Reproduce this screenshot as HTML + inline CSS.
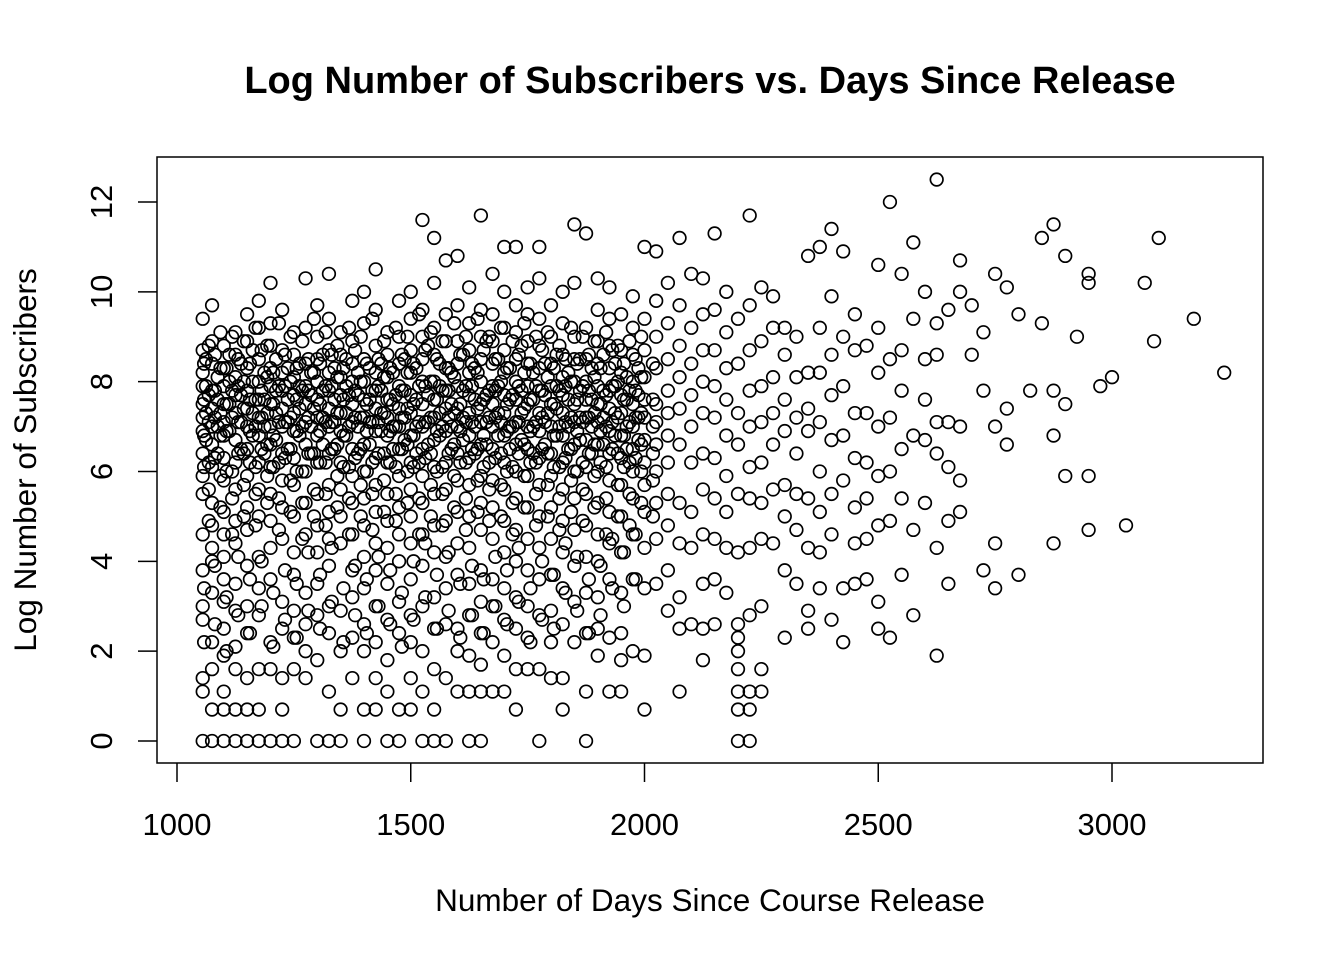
<!DOCTYPE html>
<html><head><meta charset="utf-8"><style>
html,body{margin:0;padding:0;background:#fff;}
svg{display:block;font-family:"Liberation Sans",Arial,sans-serif;}
</style></head><body>
<svg id="chart" width="1344" height="960" viewBox="0 0 1344 960" xmlns="http://www.w3.org/2000/svg">
<rect width="1344" height="960" fill="#fff"/>
<text x="710" y="93" text-anchor="middle" font-size="38" font-weight="bold">Log Number of Subscribers vs. Days Since Release</text>
<rect x="157" y="157" width="1106" height="606" fill="none" stroke="#000" stroke-width="1.5"/>
<g id="xaxis"></g>
<g id="yaxis"></g>
<g id="points"></g>
<text x="710" y="911" text-anchor="middle" font-size="31.5">Number of Days Since Course Release</text>
<text transform="translate(36,460) rotate(-90)" text-anchor="middle" font-size="31.5">Log Number of Subscribers</text>
</svg>
<script>
const xTicks=[1000,1500,2000,2500,3000];
const yTicks=[0,2,4,6,8,10,12];
const colX=[1055,1075,1100,1125,1150,1175,1200,1225,1250,1275,1300,1325,1350,1375,1400,1425,1450,1475,1500,1525,1550,1575,1600,1625,1650,1675,1700,1725,1750,1775,1800,1825,1850,1875,1900,1925,1950,1975,2000,2025,2050,2075,2100,2125,2150,2175,2200,2225,2250,2275,2300,2325,2350,2375,2400,2425,2450,2475,2500,2525,2550,2575,2600,2625,2650,2675,2700,2725,2750,2775,2800,2825,2850,2875,2900,2925,2950,2975,3000,3030,3070,3090,3100,3175,3240];
const colY=[
[0,1.1,1.4,2.7,3,3.8,4.6,5.5,5.9,6.4,6.9,7.2,7.5,7.9,8.2,8.7,9.4],
[0,0.7,1.6,2.2,3.3,4,4.3,4.8,5.3,6.1,6.6,7,7.4,7.8,8.4,8.9,9.7],
[0,0.7,1.1,1.9,2.5,3.1,3.6,4.1,4.6,5.1,5.8,6.3,6.8,7.1,7.5,7.9,8.3,8.8],
[0,0.7,1.6,2.1,2.9,3.5,4.4,4.9,5.6,6.2,6.7,7.3,7.7,8.1,8.6,9.1],
[0,0.7,1.4,2.4,3,3.9,4.7,5.2,5.9,6.5,7,7.4,7.8,8.3,8.9,9.5],
[0,0.7,1.6,2.8,3.4,4.1,5,5.6,6.2,6.8,7.2,7.6,8,8.5,9.2,9.8],
[0,1.6,2.2,3.6,4.3,4.9,5.5,6.1,6.6,7,7.5,7.9,8.3,8.8,9.3,10.2],
[0,0.7,1.4,2.5,3.1,4.5,5.2,5.8,6.4,7,7.4,7.8,8.2,8.7,9.6],
[0,1.6,2.3,2.9,3.7,4.2,5,5.7,6.3,6.9,7.3,7.7,8.1,8.6,9.1],
[1.4,2,2.6,3.3,4.6,5.3,6,6.6,7.1,7.5,7.9,8.4,9.2,10.3],
[0,1.8,2.8,3.5,4.2,4.8,5.5,6.2,6.8,7.2,7.6,8,8.5,9,9.7],
[0,1.1,2.4,3,3.9,4.5,5.1,5.7,6.4,7,7.4,7.8,8.2,8.7,9.4,10.4],
[0,0.7,2,2.9,4.4,5,5.6,6.2,6.9,7.3,7.7,8.1,8.6,9.1],
[1.4,2.3,3.2,3.8,4.6,5.3,5.9,6.5,7.1,7.5,8,8.4,8.9,9.8],
[0,0.7,2,2.6,3.4,4.1,4.8,5.4,6,6.6,7.2,7.6,8,8.5,9.3,10],
[0.7,1.4,2.2,3,3.8,4.4,5.1,5.7,6.3,6.9,7.4,7.8,8.2,8.8,9.6,10.5],
[0,1.1,1.8,2.7,3.5,4.3,4.9,5.5,6.2,6.8,7.2,7.6,8.1,8.6,9.1],
[0,0.7,2.4,3.1,4,4.6,5.2,5.9,6.5,7,7.4,7.9,8.4,9,9.8],
[0.7,1.4,2.2,2.8,3.6,4.4,5,5.6,6.2,6.8,7.3,7.7,8.2,8.7,9.4,10],
[0,1.1,2,3,3.9,4.6,5.3,5.9,6.5,7,7.5,8,8.5,9,9.6,11.6],
[0,0.7,1.6,2.5,3.2,4.2,4.8,5.5,6.1,6.7,7.2,7.6,8,8.6,9.2,10.2,11.2],
[0,1.4,2.6,3.4,4.1,4.9,5.6,6.2,6.9,7.4,7.8,8.3,8.9,9.5,10.7],
[1.1,2,2.5,3.7,4.4,5.1,5.8,6.4,7,7.4,7.9,8.4,8.9,9.7,10.8],
[0,1.1,1.9,2.8,3.5,4.3,5,5.7,6.3,6.8,7.3,7.7,8.2,8.7,9.3,10.1],
[0,1.1,1.7,2.4,3.1,3.8,4.7,5.3,5.9,6.6,7.1,7.5,8,8.5,9,9.6,11.7],
[1.1,2.2,3,3.6,4.5,5.2,5.8,6.5,7,7.5,7.9,8.4,8.9,9.5,10.4],
[1.1,1.9,2.7,3.4,4.2,4.9,5.6,6.2,6.8,7.3,7.7,8.2,8.7,9.2,10,11],
[0.7,1.6,2.5,3.2,4,4.7,5.4,6,6.6,7.1,7.6,8,8.5,9.1,9.7,11],
[1.6,2.3,3,3.8,4.5,5.2,5.9,6.5,7,7.5,7.9,8.4,8.9,9.5,10.1],
[0,1.6,2.8,3.6,4.3,5,5.7,6.3,6.9,7.3,7.8,8.3,8.8,9.4,10.3,11],
[1.4,2.2,2.9,3.7,4.5,5.2,5.9,6.4,7,7.5,7.9,8.4,9,9.7],
[0.7,1.4,2.6,3.4,4.2,4.9,5.6,6.2,6.8,7.3,7.7,8.1,8.6,9.3,10],
[2.2,3.1,3.9,4.7,5.4,6,6.6,7.1,7.5,8,8.5,9,10.2,11.5],
[0,1.1,2.4,3.3,4.1,4.8,5.5,6.1,6.7,7.2,7.6,8,8.5,9.2,11.3],
[1.9,2.5,3.2,4,4.6,5.3,6,6.6,7.1,7.5,7.9,8.4,8.9,9.6,10.3],
[1.1,2.3,3.6,4.4,5.1,5.8,6.4,6.9,7.4,7.8,8.3,8.8,9.4,10.1],
[1.1,1.8,2.4,3.3,4.2,5,5.7,6.3,6.8,7.3,7.7,8.2,8.7,9.5],
[2,3.6,4.6,5.4,6,6.5,7,7.5,8,8.6,9.2,9.9],
[0.7,1.9,3.4,4.3,5.1,5.7,6.2,6.7,7.2,7.6,8.1,8.7,9.4,11],
[3.5,4.5,5.3,6,6.6,7.1,7.5,8.3,9,9.8,10.9],
[2.9,3.8,4.8,5.5,6.2,6.8,7.3,7.8,8.5,9.3,10.2],
[1.1,2.5,3.2,4.4,5.3,6.6,7.4,8.1,8.8,9.7,11.2],
[2.6,4.3,5.1,6.2,7,7.7,8.4,9.2,10.4],
[1.8,2.5,3.5,4.6,5.6,6.4,7.3,8,8.7,9.5,10.3],
[2.6,3.6,4.5,5.4,6.3,7.2,7.9,8.7,9.6,11.3],
[3.3,4.3,5.1,5.9,6.8,7.6,8.3,9.1,10],
[0,0.7,1.1,1.6,2,2.3,2.6,4.2,5.5,6.6,7.3,8.4,9.4],
[0,0.7,1.1,2.8,4.3,5.4,6.1,7,7.8,8.7,9.7,11.7],
[1.1,1.6,3,4.5,5.3,6.2,7.1,7.9,8.9,10.1],
[4.4,5.6,6.6,7.3,8.1,9.2,9.9],
[2.3,3.8,5,5.7,6.9,7.6,8.6,9.2],
[3.5,4.7,5.5,6.4,7.2,8.1,9],
[2.5,2.9,4.3,5.4,6.9,7.4,8.2,10.8],
[3.4,4.2,5.1,6,7.1,8.2,9.2,11],
[2.7,4.6,5.5,6.7,7.7,8.6,9.9,11.4],
[2.2,3.4,5.8,6.8,7.9,9,10.9],
[3.5,4.4,5.2,6.3,7.3,8.7,9.5],
[3.6,4.5,5.4,6.2,7.3,8.8],
[2.5,3.1,4.8,5.9,7,8.2,9.2,10.6],
[2.3,4.9,6,7.2,8.5,12],
[3.7,5.4,6.5,7.8,8.7,10.4],
[2.8,4.7,6.8,9.4,11.1],
[5.3,6.7,7.6,8.5,10],
[1.9,4.3,6.4,7.1,8.6,9.3,12.5],
[3.5,4.9,6.1,7.1,9.6],
[5.1,5.8,7,10.7,10],
[8.6,9.7],
[3.8,7.8,9.1],
[3.4,4.4,7,10.4],
[6.6,7.4,10.1],
[3.7,9.5],
[7.8],
[9.3,11.2],
[4.4,6.8,7.8,11.5],
[5.9,7.5,10.8],
[9],
[4.7,5.9,10.4,10.2],
[7.9],
[8.1],
[4.8],
[10.2],
[8.9],
[11.2],
[9.4],
[8.2]
];
const coreX=[1062,1087,1112,1137,1162,1187,1212,1237,1262,1287,1312,1337,1362,1387,1412,1437,1462,1487,1512,1537,1562,1587,1612,1637,1662,1687,1712,1737,1762,1787,1812,1837,1862,1887,1912,1937,1962,1987];
const coreY=[
[6.7,7.3,7.9,8.5],[6.4,7.0,7.6,8.1],[6.9,7.5,8.0,8.6],[6.5,7.1,7.7,8.4],[6.8,7.3,8.0,8.7],
[6.4,7.0,7.6,8.2],[6.7,7.3,7.8,8.5],[6.5,7.1,7.6,8.3],[6.8,7.4,7.9,8.4],[6.4,7.0,7.7,8.2],
[6.6,7.2,7.8,8.6],[6.5,7.1,7.6,8.3],[6.8,7.3,7.9,8.5],[6.4,7.0,7.7,8.2],[6.6,7.1,7.6,8.3],
[6.9,7.3,7.8,8.4],[6.5,7.0,7.5,8.2],[6.7,7.2,7.8,8.5],[6.4,7.0,7.6,8.3],[6.6,7.1,7.7,8.8],
[6.8,7.3,7.9,8.4],[6.5,7.0,7.5,8.2],[6.7,7.2,7.8,8.6],[6.4,7.0,7.6,8.3],[6.6,7.1,7.7,8.9],
[6.8,7.3,7.9,8.5],[6.5,7.0,7.6,8.3],[6.7,7.3,7.8,8.8],[6.4,7.0,7.6,8.2],[6.6,7.1,7.7,8.4],
[6.8,7.4,7.9,8.6],[6.5,7.0,7.6,8.2],[6.7,7.2,7.8,8.5],[6.4,7.0,7.6,8.3],[6.6,7.2,7.8,8.6],
[6.8,7.3,7.9,8.4],[6.5,7.0,7.6,8.1],[6.7,7.2,7.7,8.3]
];
const core2X=[1068,1093,1118,1143,1168,1193,1218,1243,1268,1293,1318,1343,1368,1393,1418,1443,1468,1493,1518,1543,1568,1593,1618,1643,1668,1693,1718,1743,1768,1793,1818,1843,1868,1893,1918,1943,1968,1993,2018];
const core2Y=[
[4.9,5.6,6.2,7.1,7.7,8.8],[5.2,5.9,6.8,7.3,8.3,9.1],[4.6,5.4,6.0,7.2,7.8,9.0],[5.0,5.7,6.4,7.4,8.0,8.9],
[4.8,5.5,6.1,7.0,7.6,9.2],[5.3,5.9,6.6,7.3,8.1,8.8],[4.7,5.4,6.2,7.1,7.9,9.3],[5.1,5.8,6.5,7.2,8.0,9.0],
[4.5,5.3,6.0,7.0,7.8,8.9],[5.0,5.6,6.4,7.4,8.2,9.4],[4.8,5.5,6.2,7.1,7.9,9.1],[5.2,5.9,6.6,7.3,8.1,8.8],
[4.6,5.4,6.1,7.0,7.7,9.2],[5.0,5.7,6.5,7.2,8.0,9.0],[4.7,5.5,6.2,7.1,7.8,9.4],[5.1,5.8,6.4,7.3,8.1,8.9],
[4.9,5.5,6.1,7.0,7.7,9.2],[5.3,6.0,6.6,7.4,8.2,9.0],[4.6,5.4,6.2,7.1,7.9,9.5],[5.0,5.7,6.4,7.2,8.0,9.1],
[4.8,5.5,6.1,7.0,7.8,8.9],[5.2,5.9,6.6,7.3,8.1,9.3],[4.7,5.4,6.2,7.1,7.9,9.0],[5.1,5.8,6.5,7.4,8.2,9.4],
[4.9,5.6,6.2,7.2,7.8,9.0],[5.0,5.7,6.4,7.1,8.0,9.2],[4.6,5.3,6.1,7.0,7.7,8.9],[5.2,5.9,6.6,7.4,8.2,9.3],
[4.8,5.5,6.2,7.1,7.9,9.0],[5.0,5.7,6.4,7.3,8.1,9.1],[4.7,5.4,6.1,7.0,7.8,8.8],[5.1,5.8,6.5,7.2,8.0,9.2],
[4.9,5.6,6.2,7.1,7.9,9.0],[5.2,5.9,6.6,7.3,8.1,8.9],[4.6,5.4,6.1,7.0,7.7,9.1],[5.0,5.7,6.4,7.2,8.0,8.8],
[4.8,5.5,6.2,7.1,7.8,8.9],[5.3,6.0,6.6,7.3,8.1,9.0],[5.0,5.8,6.4,7.0,7.6,8.4]
];
const core3X=[1058,1081,1106,1131,1156,1181,1206,1231,1256,1281,1306,1331,1356,1381,1406,1431,1456,1481,1506,1531,1556,1581,1606,1631,1656,1681,1706,1731,1756,1781,1806,1831,1856,1881,1906,1931,1956,1981];
const core3Y=[
[2.2,3.4,6.1,6.8,7.6,8.4],[2.6,3.9,6.3,7.2,7.8,8.6],[2.0,3.2,6.0,6.9,7.5,8.3],[2.8,4.1,6.4,7.1,7.9,8.5],
[2.4,3.6,6.2,6.9,7.6,8.4],[3.0,4.0,6.5,7.2,7.8,8.7],[2.1,3.3,6.1,6.8,7.5,8.2],[2.7,3.8,6.3,7.1,7.9,8.6],
[2.3,3.5,6.0,6.9,7.6,8.3],[2.9,4.2,6.4,7.2,7.8,8.5],[2.5,3.7,6.2,6.9,7.5,8.4],[3.1,4.3,6.5,7.1,7.9,8.6],
[2.2,3.4,6.1,6.8,7.6,8.3],[2.8,3.9,6.3,7.2,7.8,8.7],[2.4,3.6,6.0,6.9,7.5,8.4],[3.0,4.1,6.4,7.1,7.9,8.5],
[2.6,3.8,6.2,6.9,7.6,8.3],[2.1,3.3,6.5,7.2,7.8,8.6],[2.7,4.0,6.1,6.8,7.5,8.4],[3.2,4.4,6.3,7.1,7.9,8.7],
[2.5,3.7,6.0,6.9,7.6,8.5],[2.9,4.2,6.4,7.2,7.8,8.3],[2.3,3.5,6.2,6.9,7.5,8.6],[2.8,3.9,6.5,7.1,7.9,8.4],
[2.4,3.6,6.1,6.8,7.6,8.7],[3.0,4.1,6.3,7.2,7.8,8.5],[2.6,3.8,6.0,6.9,7.5,8.3],[3.1,4.3,6.4,7.1,7.9,8.6],
[2.2,3.4,6.2,6.9,7.6,8.4],[2.7,4.0,6.5,7.2,7.8,8.7],[2.5,3.7,6.1,6.8,7.5,8.3],[3.3,4.4,6.3,7.1,7.9,8.5],
[2.9,4.1,6.0,6.9,7.6,8.4],[2.4,3.6,6.4,7.2,7.8,8.6],[2.8,3.9,6.2,6.9,7.5,8.3],[3.4,4.5,6.5,7.1,7.9,8.7],
[3.0,4.2,6.1,6.8,7.6,8.4],[3.6,4.6,6.3,7.2,7.8,8.5]
];
const NS="http://www.w3.org/2000/svg";
function sx(v){return 177+(v-1000)*(1112-177)/2000;}
function sy(v){return 741-v*(741-202)/12;}
const xa=document.getElementById('xaxis'),ya=document.getElementById('yaxis'),pg=document.getElementById('points');
function mk(t,a){const e=document.createElementNS(NS,t);for(const k in a)e.setAttribute(k,a[k]);return e;}
xTicks.forEach(t=>{
 const l=mk('line',{x1:sx(t),x2:sx(t),y1:763,y2:782,stroke:'#000','stroke-width':1.5});
 
 
 xa.appendChild(l);
 const tx=mk('text',{x:sx(t),y:835,'text-anchor':'middle','font-size':31});
 
 
 tx.textContent=t;xa.appendChild(tx);
});
yTicks.forEach(t=>{
 const l=mk('line',{x1:138,x2:157,y1:sy(t),y2:sy(t),stroke:'#000','stroke-width':1.5});
 
 
 ya.appendChild(l);
 const tx=mk('text',{transform:'translate(112,'+sy(t)+') rotate(-90)','text-anchor':'middle','font-size':31});
 
 
 tx.textContent=t;ya.appendChild(tx);
});
function plot(xs,ys){
 xs.forEach((x,i)=>{ys[i].forEach(y=>{
  const c=mk('circle',{cx:sx(x),cy:sy(y),r:6.3,fill:'none',stroke:'#000','stroke-width':1.7});
  
  
  pg.appendChild(c);
 });});
}
plot(colX,colY);
plot(coreX,coreY);
plot(core2X,core2Y);
plot(core3X,core3Y);
</script>
</body></html>
